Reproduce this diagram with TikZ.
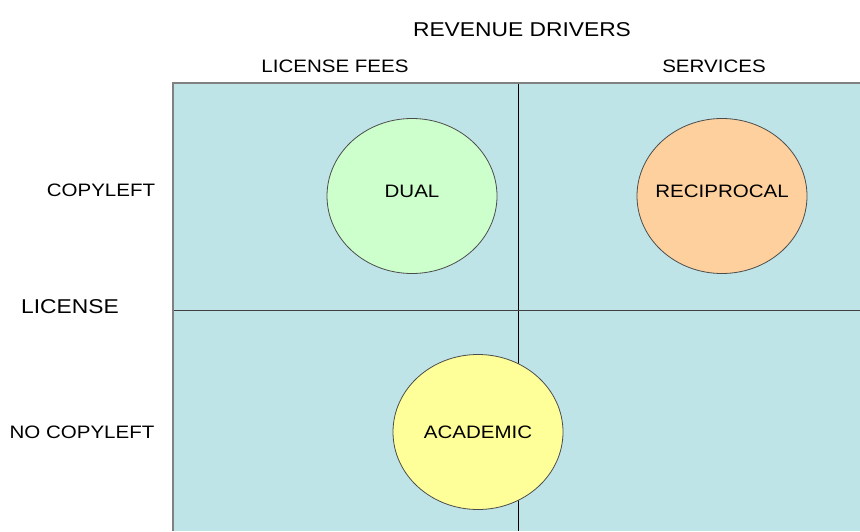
\documentclass[tikz,border=0pt]{standalone}
\usepackage{fontspec}
\setmainfont[FakeStretch=1.14]{Liberation Sans}
\usepackage{tikz}
\usetikzlibrary{shapes.geometric}
\definecolor{cellblue}{HTML}{BFE4E8}
\definecolor{dualgreen}{HTML}{CCFFCC}
\definecolor{recorange}{HTML}{FDD09E}
\definecolor{acayellow}{HTML}{FFFF99}

\begin{document}
\begin{tikzpicture}[x=1pt, y=-1pt,
		lbl/.style={inner sep=0pt, font=\fontsize{18}{20}\selectfont},
		biglbl/.style={inner sep=0pt, font=\fontsize{20}{22}\selectfont},
		blob/.style={ellipse, draw=black!70, line width=0.8pt, minimum width=170pt, minimum height=155pt, inner sep=0pt, inner xsep=-30pt, text depth=10pt, font=\fontsize{18}{20}\selectfont}]
		%%%%% START %%%%%
		
		\useasboundingbox (0, 0) rectangle (860, 531);
		
		% the four cells
		\fill[cellblue] (173, 83) rectangle (860, 531);
		\draw[line width=0.6pt] (518, 83) -- (518, 531);
		\draw[line width=0.6pt, color=black!75] (173, 310) -- (860, 310);
		\draw[line width=2pt, color=black!50] (173, 531) -- (173, 83) -- (860, 83);
		
		% headings
		\node[biglbl] (drivers) at (522, 30) {REVENUE DRIVERS};
		\node[lbl] (fees) at (335, 66) {LICENSE FEES};
		\node[lbl] (services) at (714, 66) {SERVICES};
		
		\node[biglbl] (license) at (70, 307) {LICENSE};
		\node[lbl] (copyleft) at (101, 190.5) {COPYLEFT};
		\node[lbl] (nocopyleft) at (82, 432) {NO COPYLEFT};
		
		% the models
		\node[blob, fill=dualgreen] (dual) at (412, 196) {DUAL};
		\node[blob, fill=recorange] (reciprocal) at (722, 196) {RECIPROCAL};
		\node[blob, fill=acayellow, text depth=0pt] (academic) at (478, 432) {ACADEMIC};
		
		%%%%% END %%%%%
	\end{tikzpicture}
\end{document}
